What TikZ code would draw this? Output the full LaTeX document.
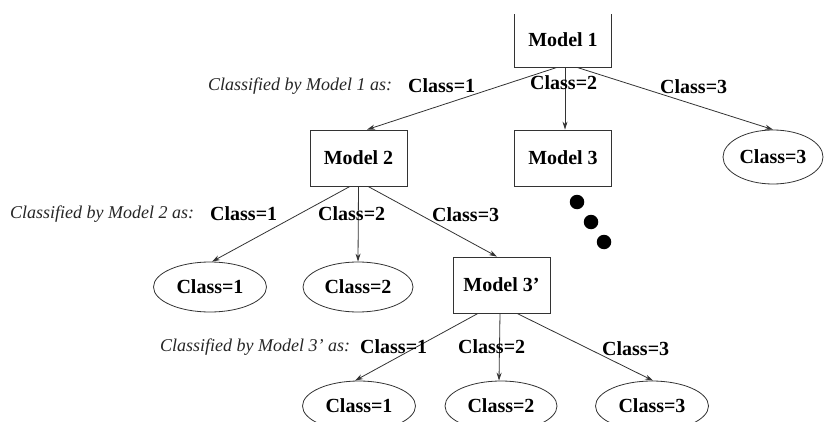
\documentclass[tikz,border=0pt]{standalone}
\usepackage{fontspec}
\setmainfont{Liberation Serif}
\usetikzlibrary{arrows.meta,shapes.geometric}
\tikzset{
  modelbox/.style={draw=black!80,line width=0.8pt,rectangle,inner sep=0pt,minimum width=97pt,minimum height=56pt,font=\fontsize{20}{24}\selectfont\bfseries},
  classell/.style={draw=black!80,line width=0.8pt,ellipse,inner sep=0pt,minimum width=113pt,minimum height=50pt,font=\fontsize{20}{24}\selectfont\bfseries},
  edgelab/.style={inner sep=0pt,anchor=west,font=\fontsize{20}{24}\selectfont\bfseries},
  rowlab/.style={inner sep=0pt,anchor=west,font=\fontsize{18}{22}\selectfont\itshape,text=black!85},
  conn/.style={draw=black!80,line width=0.8pt,-{Stealth[length=8pt,width=5pt]}},
  dot/.style={circle,fill=black,inner sep=0pt,minimum size=14.5pt}
}
\begin{document}
\begin{tikzpicture}[x=1pt,y=-1pt]
\useasboundingbox (0,0) rectangle (826,422);
\begin{scope}
\clip (0,14.5) rectangle (826,422);
% models
\node[modelbox,minimum height=54pt] (m1) at (563,40) {Model 1};
\node[modelbox] (m2) at (358.5,158) {Model 2};
\node[modelbox] (m3) at (563,158) {Model 3};
\node[modelbox] (m3p) at (501.5,285) {Model 3'};
% leaves
\node[classell,minimum width=100pt,minimum height=54pt] (e13) at (773,157) {Class=3};
\node[classell] (e21) at (210,287) {Class=1};
\node[classell,minimum width=110pt] (e22) at (358,287) {Class=2};
\node[classell] (e31) at (359,406) {Class=1};
\node[classell,minimum width=112pt] (e32) at (501,406) {Class=2};
\node[classell] (e33) at (652,406) {Class=3};
% dots
\node[dot] (d1) at (577,202) {};
\node[dot] (d2) at (591,222) {};
\node[dot] (d3) at (604,242) {};
% connectors
\draw[conn] ([xshift=-6pt]m1.south) -- ([xshift=8.5pt]m2.north);
\draw[conn] ([xshift=2pt]m1.south) -- ([xshift=2pt]m3.north);
\draw[conn] ([xshift=14pt]m1.south) -- (e13.north);
\draw[conn] ([xshift=-8.5pt]m2.south) -- ([xshift=2pt]e21.north);
\draw[conn] (m2.south) -- (e22.north);
\draw[conn] ([xshift=9.5pt]m2.south) -- ([xshift=-4.5pt]m3p.north);
\draw[conn] ([xshift=-23.5pt]m3p.south) -- ([xshift=-4pt]e31.north);
\draw[conn] ([xshift=-1.5pt]m3p.south) -- ([xshift=-2pt]e32.north);
\draw[conn] ([xshift=15.5pt]m3p.south) -- ([xshift=1pt]e33.north);
% labels
\node[rowlab] (r1) at (208,86) {Classified by Model 1 as:};
\node[edgelab] (l11) at (408,86) {Class=1};
\node[edgelab] (l12) at (530,83) {Class=2};
\node[edgelab] (l13) at (660,87) {Class=3};
\node[rowlab] (r2) at (10,214) {Classified by Model 2 as:};
\node[edgelab] (l21) at (210,214) {Class=1};
\node[edgelab] (l22) at (318,214) {Class=2};
\node[edgelab] (l23) at (432,215) {Class=3};
\node[rowlab] (r3) at (160,347) {Classified by Model 3' as:};
\node[edgelab] (l31) at (360,347) {Class=1};
\node[edgelab] (l32) at (458,347) {Class=2};
\node[edgelab] (l33) at (602,349) {Class=3};
\end{scope}
\end{tikzpicture}
\end{document}
